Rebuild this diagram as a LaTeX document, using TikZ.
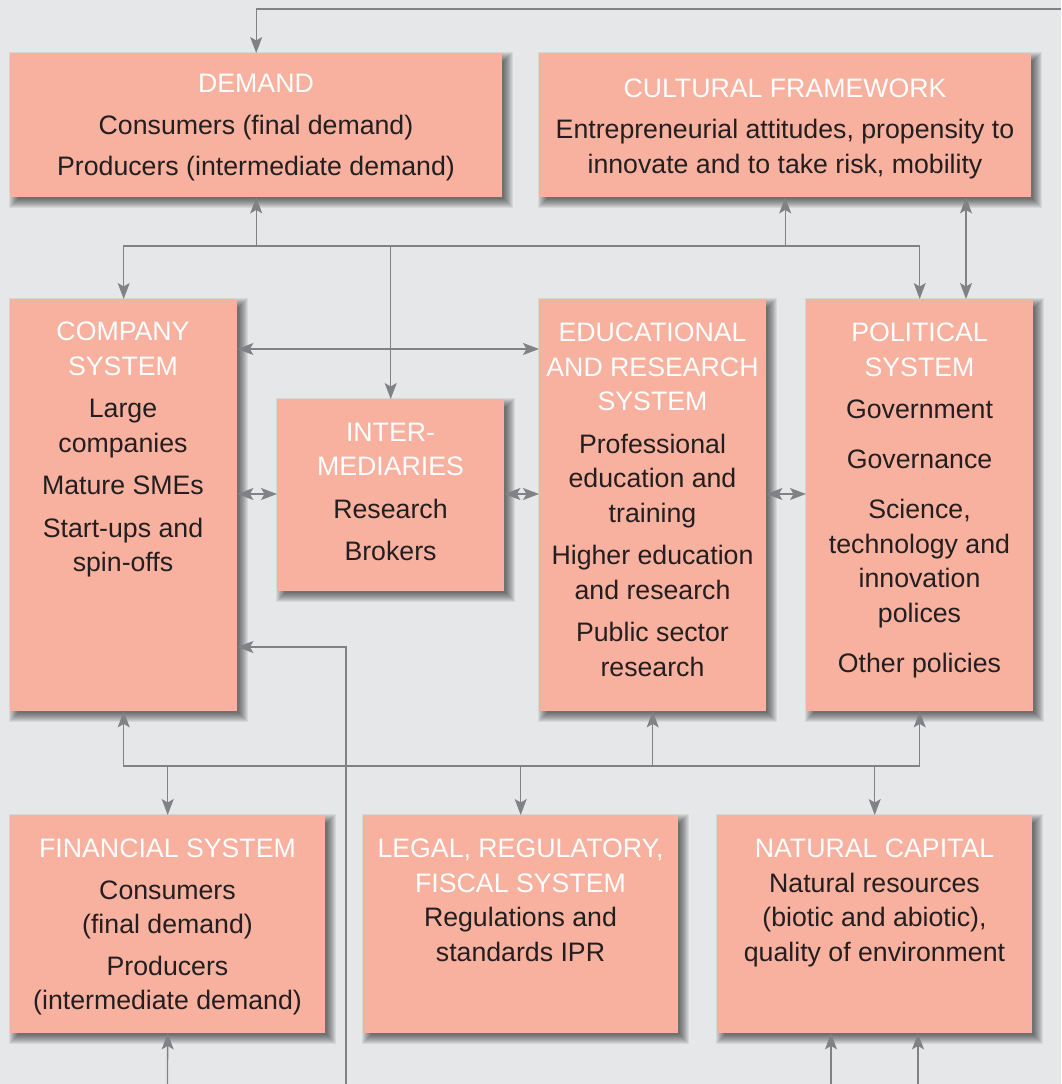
\documentclass[tikz,border=0pt]{standalone}
\usepackage{fontspec}
\setmainfont{Liberation Sans}
\usetikzlibrary{arrows.meta,calc}
\definecolor{bg}{HTML}{E6E7E9}
\definecolor{boxfill}{HTML}{F8B09F}
\definecolor{wire}{HTML}{808285}
\definecolor{ink}{HTML}{231F20}
\newcommand{\hd}[1]{\textcolor{white}{#1}}
\pgfdeclarelayer{back}
\pgfdeclarelayer{shade}
\pgfsetlayers{back,shade,main}
% soft drop shadow under a named box: stacked translucent rectangles
\newcommand{\softshadow}[1]{%
  \begin{pgfonlayer}{shade}
    \foreach \r in {-3,-2,...,6}{%
      \fill[black, opacity=0.065]
        ($(#1.north west)+({5-\r},{5-\r})$) rectangle ($(#1.south east)+({5+\r},{5+\r})$);
    }
  \end{pgfonlayer}}
\begin{document}
\begin{tikzpicture}[x=1pt,y=-1pt,
  box/.style={fill=boxfill, draw=none, anchor=north west, inner sep=0pt},
  txt/.style={anchor=north, inner sep=0pt, align=center, text=ink,
    font=\fontsize{26.7}{34.5}\selectfont},
  tip/.tip={Stealth[length=16pt,width=12pt,inset=3.5pt]},
  link/.style={draw=wire, line width=1.3pt, -tip},
  both/.style={draw=wire, line width=1.3pt, tip-tip}
]
% background
\begin{pgfonlayer}{back}
  \fill[bg] (0,0) rectangle (1061,1084);
\end{pgfonlayer}
\useasboundingbox (0,0) rectangle (1061,1084);

% boxes
\node[box, minimum width=492pt, minimum height=144pt] (demand)    at (10,53)  {};
\node[box, minimum width=492pt, minimum height=144pt] (cultural)  at (539,53) {};
\node[box, minimum width=227pt, minimum height=412pt] (company)   at (10,299) {};
\node[box, minimum width=227pt, minimum height=192pt] (inter)     at (277,399) {};
\node[box, minimum width=227pt, minimum height=412pt] (educ)      at (539,299) {};
\node[box, minimum width=227pt, minimum height=412pt] (political) at (806,299) {};
\node[box, minimum width=315pt, minimum height=218pt] (financial) at (10,815) {};
\node[box, minimum width=315pt, minimum height=218pt] (legal)     at (363,815) {};
\node[box, minimum width=315pt, minimum height=218pt] (natural)   at (717,815) {};

\foreach \b in {demand,cultural,company,inter,educ,political,financial,legal,natural}
  {\softshadow{\b}}

% helper positions for wires
\coordinate (topR)  at (1061,9);
\coordinate (busA)  at (0,246);
\coordinate (busB)  at (0,766);
\coordinate (r349)  at (0,349);
\coordinate (r494)  at (0,494);
\coordinate (r647)  at (0,647);
\coordinate (pq)    at (966,0);
\coordinate (feedB) at (346,1084);
\coordinate (inF)   at (167.5,1084);
\coordinate (inN1)  at (831,1084);
\coordinate (inN2)  at (918,1084);

% upper wiring
\draw[link] (topR) -| (demand.north);
\draw[link] (demand.south |- busA) -- (demand.south);
\draw[link] (demand.south |- busA) -| (company.north);
\draw[link] (demand.south |- busA) -| (political.north);
\draw[link] (inter.north |- busA) -- (inter.north);
\draw[link] (cultural.south |- busA) -- (cultural.south);
\draw[both] (cultural.south -| pq) -- (political.north -| pq);

% middle row exchanges
\draw[both] (company.east |- r349) -- (educ.west |- r349);
\draw[both] (company.east |- r494) -- (inter.west |- r494);
\draw[both] (inter.east |- r494) -- (educ.west |- r494);
\draw[both] (educ.east |- r494) -- (political.west |- r494);

% lower wiring
\draw[link] (educ.south |- busB) -| (company.south);
\draw[link] (educ.south |- busB) -- (educ.south);
\draw[link] (educ.south |- busB) -| (political.south);
\draw[link] (financial.north |- busB) -- (financial.north);
\draw[link] (legal.north |- busB) -- (legal.north);
\draw[link] (natural.north |- busB) -- (natural.north);
\draw[link] (feedB) |- (company.east |- r647);

% inputs from below
\draw[link] (inF) -- (financial.south);
\draw[link] (inN1) -- (inN1 |- natural.south);
\draw[link] (inN2) -- (inN2 |- natural.south);

% texts
\node[txt] (tdemand) at (256,74)
  {\hd{DEMAND}\\[7pt]Consumers (final demand)\\[7pt]Producers (intermediate demand)};
\node[txt] (tcultural) at (785,78.5)
  {\hd{CULTURAL FRAMEWORK}\\[7pt]Entrepreneurial attitudes, propensity to\\innovate and to take risk, mobility};
\node[txt] (tcompany) at (123,322)
  {\hd{COMPANY}\\\hd{SYSTEM}\\[8pt]Large\\companies\\[8pt]Mature SMEs\\[8pt]Start-ups and\\spin-offs};
\node[txt] (tinter) at (390.5,422.5)
  {\hd{INTER-}\\\hd{MEDIARIES}\\[8pt]Research\\[8pt]Brokers};
\node[txt] (teduc) at (652.5,323)
  {\hd{EDUCATIONAL}\\\hd{AND RESEARCH}\\\hd{SYSTEM}\\[8pt]Professional\\education and\\training\\[8pt]Higher education\\and research\\[8pt]Public sector\\research};
\node[txt] (tpolitical) at (919.5,323)
  {\hd{POLITICAL}\\\hd{SYSTEM}\\[8pt]Government\\[15.5pt]Governance\\[15.5pt]Science,\\technology and\\innovation\\polices\\[15.5pt]Other policies};
\node[txt] (tfinancial) at (167.5,839)
  {\hd{FINANCIAL SYSTEM}\\[7pt]Consumers\\(final demand)\\[7pt]Producers\\(intermediate demand)};
\node[txt] (tlegal) at (520.5,839)
  {\hd{LEGAL, REGULATORY,}\\\hd{FISCAL SYSTEM}\\Regulations and\\standards IPR};
\node[txt] (tnatural) at (874.5,839)
  {\hd{NATURAL CAPITAL}\\Natural resources\\(biotic and abiotic),\\quality of environment};
\end{tikzpicture}
\end{document}
